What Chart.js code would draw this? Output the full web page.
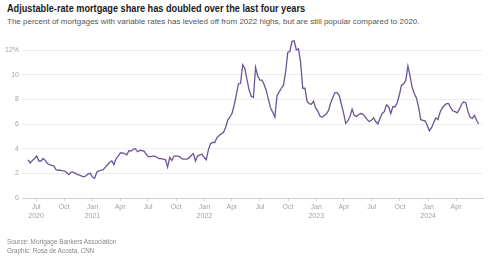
<!DOCTYPE html>
<html>
<head>
<meta charset="utf-8">
<script src="https://cdn.jsdelivr.net/npm/chart.js@4.4.1/dist/chart.umd.min.js"></script>
<style>
  html, body { margin: 0; padding: 0; background: #fff; }
  body { width: 500px; height: 259px; position: relative; overflow: hidden; font-family: "Liberation Sans", Arial, sans-serif; }
  #title { position: absolute; left: 7px; top: 3px; font-size: 10.2px; font-weight: bold; color: #1a1a1a; white-space: nowrap; transform: scaleX(0.9); transform-origin: 0 0; }
  #sub { position: absolute; left: 7px; top: 17px; font-size: 8px; color: #555; white-space: nowrap; }
  #src { position: absolute; left: 7px; top: 236.5px; font-size: 6.35px; line-height: 9px; color: #888; white-space: nowrap; }
  #chart { position: absolute; left: 0; top: 0; }
</style>
</head>
<body>
<div id="title">Adjustable-rate mortgage share has doubled over the last four years</div>
<div id="sub">The percent of mortgages with variable rates has leveled off from 2022 highs, but are still popular compared to 2020.</div>
<canvas id="chart" width="500" height="259"></canvas>
<div id="src">Source: Mortgage Bankers Association<br>Graphic: Rosa de Acosta, CNN</div>

<script>
// weekly ARM share (%) starting from first week
const startDate = "2020-06-05";
const armShare = [
  3.1, 2.85, 3.05, 3.2, 3.4, 3.0, 3.0, 3.2, 3.05, 2.8,
  2.7, 2.65, 2.6, 2.3, 2.25, 2.25, 2.2, 2.2, 2.05, 1.9,
  2.1, 2.1, 2.0, 1.9, 1.85, 1.78, 1.72, 1.8, 1.95, 2.0,
  1.7, 1.6, 2.1, 2.2, 2.25, 2.3, 2.5, 2.7, 2.9, 3.0,
  2.7, 3.2, 3.4, 3.65, 3.65, 3.6, 3.5, 3.85, 3.8, 3.95,
  4.0, 3.75, 3.85, 3.85, 3.8, 3.55, 3.35, 3.35, 3.4, 3.4,
  3.3, 3.2, 3.2, 3.15, 3.1, 2.5, 3.3, 3.05, 3.4, 3.4,
  3.4, 3.3, 3.15, 3.15, 3.15, 3.25, 3.45, 3.6, 3.0, 3.4,
  3.5, 3.55, 3.3, 3.1, 3.9, 4.4, 4.5, 4.5, 4.9, 5.05,
  5.2, 5.3, 5.7, 6.3, 6.55, 6.85, 7.5, 8.35, 9.25, 9.3,
  10.8, 10.5, 9.6, 8.75, 8.25, 8.15, 10.6, 9.9, 9.55, 9.55,
  9.2, 8.7, 8.0, 7.3, 6.95, 6.55, 8.3, 8.6, 8.9, 9.15,
  10.2, 11.8, 11.9, 12.7, 12.75, 12.0, 12.1, 11.0, 8.9, 8.9,
  7.85, 7.65, 7.6, 7.85, 7.3, 7.05, 6.65, 6.55, 6.7, 6.8,
  7.1, 7.7, 8.15, 8.55, 8.55, 8.3, 7.6, 6.9, 6.05, 6.25,
  6.6, 7.2, 6.7, 6.6, 6.75, 6.85, 6.8, 6.6, 6.35, 6.2,
  6.3, 6.5, 6.2, 6.0, 6.45, 6.85, 7.0, 7.55, 7.4, 6.85,
  7.4, 7.4, 7.7, 8.35, 9.15, 9.25, 9.55, 10.7, 9.9, 8.95,
  8.45, 8.1, 7.35, 6.35, 6.3, 6.25, 5.9, 5.45, 5.7, 6.1,
  6.5, 6.35, 6.95, 7.3, 7.5, 7.65, 7.65, 7.3, 7.05, 7.0,
  6.9, 7.2, 7.6, 7.8, 7.7, 7.0, 6.55, 6.45, 6.7, 6.3,
  6.0
];

const tickDates = ["2020-07-01", "2020-10-01", "2021-01-01", "2021-04-01", "2021-07-01", "2021-10-01",
  "2022-01-01", "2022-04-01", "2022-07-01", "2022-10-01", "2023-01-01", "2023-04-01",
  "2023-07-01", "2023-10-01", "2024-01-01", "2024-04-01"];
const tickLabels = [["Jul", "2020"], "Oct", ["Jan", "2021"], "Apr", "Jul", "Oct",
  ["Jan", "2022"], "Apr", "Jul", "Oct", ["Jan", "2023"], "Apr",
  "Jul", "Oct", ["Jan", "2024"], "Apr"];
const yTicks = [0, 2, 4, 6, 8, 10, 12];

function dayNum(s){
  return (Date.parse(s + "T00:00:00Z") - Date.UTC(2020, 0, 1)) / 86400000;
}

const start = dayNum(startDate);
const points = armShare.map((v, i) => ({x: start + 7 * i, y: v}));
const tickDays = tickDates.map(dayNum);

const labelColor = "#a3a3a3";
const labelFont = {family: "'Liberation Sans', Arial, sans-serif", size: 7};

new Chart(document.getElementById("chart"), {
  type: "line",
  data: {
    datasets: [{
      data: points,
      borderColor: "#6c5595",
      borderWidth: 1.3,
      pointRadius: 0,
      tension: 0,
      clip: false
    }]
  },
  options: {
    responsive: false,
    animation: false,
    layout: { padding: { top: 50, right: 17, bottom: 0, left: 0 } },
    plugins: { legend: { display: false }, tooltip: { enabled: false } },
    scales: {
      x: {
        type: "linear",
        min: dayNum("2020-05-16"),
        max: dayNum("2024-06-28"),
        afterBuildTicks: scale => { scale.ticks = tickDays.map(v => ({value: v})); },
        afterFit: scale => { scale.height = 61; },
        grid: { drawOnChartArea: false, drawTicks: true, tickLength: 3, color: "#cfcfcf" },
        border: { display: true, color: "#cfcfcf" },
        ticks: {
          autoSkip: false,
          maxRotation: 0,
          padding: 2,
          color: labelColor,
          font: labelFont,
          callback: (val, i) => tickLabels[i]
        }
      },
      y: {
        min: 0,
        max: 12,
        afterBuildTicks: scale => { scale.ticks = yTicks.map(v => ({value: v})); },
        afterFit: scale => { scale.width = 22; },
        grid: { color: "#ededed", drawTicks: false },
        border: { display: false },
        ticks: {
          padding: 3,
          color: labelColor,
          font: labelFont,
          callback: v => v === 12 ? "12%" : v
        }
      }
    }
  }
});
</script>
</body>
</html>
